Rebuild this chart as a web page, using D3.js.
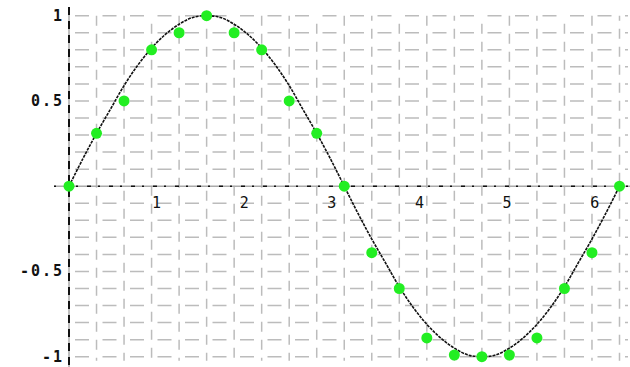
<!DOCTYPE html>
<html>
<head>
<meta charset="utf-8">
<script src="https://cdn.jsdelivr.net/npm/d3@7"></script>
<style>
  body { margin: 0; background: #fff; }
  svg { display: block; }
  .ylab { font-family: "DejaVu Sans Mono", monospace; font-size: 15px; font-weight: bold; fill: #111; letter-spacing: 2px; }
  .xlab { font-family: "DejaVu Sans Mono", monospace; font-size: 15px; fill: #111; }
</style>
</head>
<body>
<svg id="chart" width="630" height="367"></svg>
<script>
'use strict'

// sample points (x in steps of pi/10)
const pointX = d3.range(0, 21).map(k => k * Math.PI / 10)
const pointY = [0, 0.31, 0.5, 0.8, 0.9, 1, 0.9, 0.8, 0.5, 0.31, 0,
    -0.39, -0.6, -0.89, -0.99, -1, -0.99, -0.89, -0.6, -0.39, 0]

// the drawn curve, sampled every pi/20
const curveX = d3.range(0, 41).map(k => k * Math.PI / 20)
const curveY = [0, 0.16, 0.31, 0.45, 0.59, 0.71, 0.81, 0.89, 0.95, 0.99, 1,
    0.99, 0.95, 0.89, 0.81, 0.71, 0.59, 0.45, 0.31, 0.16, 0,
    -0.16, -0.31, -0.45, -0.59, -0.71, -0.81, -0.89, -0.95, -0.99, -1,
    -0.99, -0.95, -0.89, -0.81, -0.71, -0.59, -0.45, -0.31, -0.16, 0]

const xTicks = [1, 2, 3, 4, 5, 6]
const xTickLabels = ['1', '2', '3', '4', '5', '6']
const yTicks = [1, 0.5, -0.5, -1]
const yTickLabels = ['1', '0.5', '-0.5', '-1']

const svg = d3.select('#chart')

const x = d3.scaleLinear().domain([0, 2 * Math.PI]).range([69, 619.5])
const y = d3.scaleLinear().domain([-1, 1]).range([356.7, 15.7])

// grid
const grid = svg.append('g')
    .attr('stroke', '#bcbcbc')
    .attr('stroke-width', 1.5)
    .attr('fill', 'none')

grid.selectAll('line.v')
    .data(d3.range(1, 21).map(k => k * Math.PI / 10))
    .join('line')
    .attr('class', 'v')
    .attr('x1', d => x(d)).attr('x2', d => x(d))
    .attr('y1', y(1)).attr('y2', y(-1) + 4)
    .attr('stroke-dasharray', '10,8')
    .attr('stroke-dashoffset', (d, i) => (i % 3) * 5)

grid.selectAll('line.h')
    .data(d3.range(-10, 11).filter(k => k !== 0).map(k => k / 10))
    .join('line')
    .attr('class', 'h')
    .attr('x1', x(0)).attr('x2', 628)
    .attr('y1', d => y(d)).attr('y2', d => y(d))
    .attr('stroke-dasharray', '14,13.5')
    .attr('stroke-dashoffset', -6)

// axes
svg.append('line')
    .attr('x1', 54).attr('x2', 630)
    .attr('y1', y(0)).attr('y2', y(0))
    .attr('stroke', '#aaa').attr('stroke-width', 1.5)
svg.append('line')
    .attr('x1', 54).attr('x2', 630)
    .attr('y1', y(0)).attr('y2', y(0))
    .attr('stroke', '#111').attr('stroke-width', 1.5)
    .attr('stroke-dasharray', '2,9,4,7')
svg.append('line')
    .attr('x1', x(0)).attr('x2', x(0))
    .attr('y1', 7).attr('y2', 367)
    .attr('stroke', '#aaa').attr('stroke-width', 1.5)
svg.append('line')
    .attr('x1', x(0)).attr('x2', x(0))
    .attr('y1', 7).attr('y2', 367)
    .attr('stroke', '#111').attr('stroke-width', 2)
    .attr('stroke-dasharray', '8,6')

// tick labels
svg.append('g').selectAll('text')
    .data(xTicks)
    .join('text')
    .attr('class', 'xlab')
    .attr('x', d => x(d))
    .attr('y', y(0) + 22)
    .attr('text-anchor', 'middle')
    .text((d, i) => xTickLabels[i])

svg.append('g').selectAll('text')
    .data(yTicks)
    .join('text')
    .attr('class', 'ylab')
    .attr('x', 64)
    .attr('y', d => y(d) + 5)
    .attr('text-anchor', 'end')
    .text((d, i) => yTickLabels[i])

// curve
const line = d3.line()
    .x(d => x(d[0]))
    .y(d => y(d[1]))
    .curve(d3.curveCatmullRom)

svg.append('path')
    .datum(curveX.map((v, i) => [v, curveY[i]]))
    .attr('d', line)
    .attr('fill', 'none')
    .attr('stroke', '#111')
    .attr('stroke-width', 1.6)
    .attr('stroke-dasharray', '3,1')

// points
svg.append('g').selectAll('circle')
    .data(pointX.map((v, i) => [v, pointY[i]]))
    .join('circle')
    .attr('cx', d => x(d[0]))
    .attr('cy', d => y(d[1]))
    .attr('r', 5.5)
    .attr('fill', '#22ee22')
</script>
</body>
</html>
